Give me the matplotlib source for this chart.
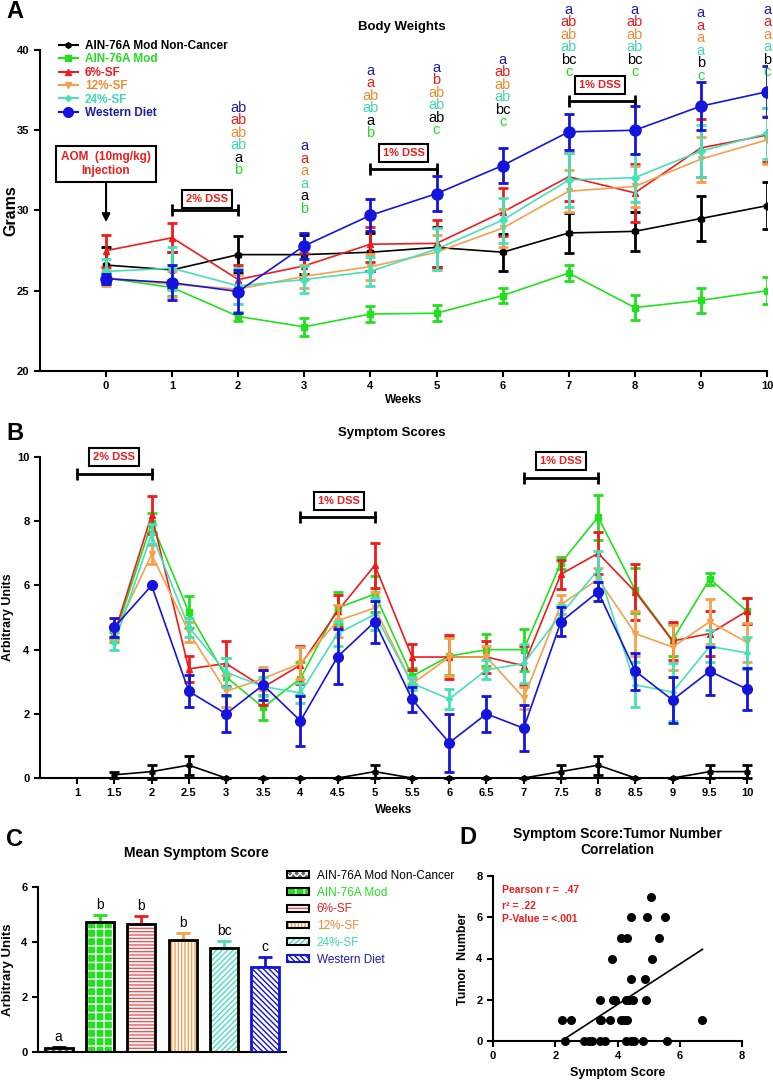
import matplotlib
matplotlib.use("Agg")
import matplotlib.pyplot as plt
from matplotlib.lines import Line2D
from matplotlib.patches import Patch
import numpy as np

plt.rcParams['font.family'] = ['Liberation Sans', 'DejaVu Sans']
plt.rcParams['hatch.linewidth'] = 1.0

# groups, in legend order
groups = ["AIN-76A Mod Non-Cancer", "AIN-76A Mod", "6%-SF", "12%-SF", "24%-SF", "Western Diet"]
line_colors = ["#000000", "#22e01e", "#ee1c1c", "#f4a04c", "#48e0b8", "#1414dc"]
text_colors = ["#000000", "#22dd22", "#ee1c1c", "#f08a30", "#40d8b0", "#1c1ca8"]
markers = ["h", "s", "^", "v", "D", "o"]
msizes = [5, 5, 5, 5, 4, 8]

# ---- panel A: body weights (grams)
weeks = [0, 1, 2, 3, 4, 5, 6, 7, 8, 9, 10]
bw_noncancer = [26.6, 26.3, 27.25, 27.25, 27.4, 27.7, 27.4, 28.6, 28.7, 29.5, 30.3]
bw_noncancer_sem = [1.1, 1.1, 1.15, 1.2, 1.2, 1.25, 1.15, 1.25, 1.2, 1.4, 1.45]
bw_mod = [25.8, 25.2, 23.4, 22.75, 23.55, 23.6, 24.7, 26.1, 23.95, 24.4, 25.0]
bw_mod_sem = [0.3, 0.5, 0.3, 0.55, 0.5, 0.5, 0.45, 0.5, 0.8, 0.8, 0.85]
bw_sf6 = [27.5, 28.3, 25.7, 26.55, 27.9, 27.95, 29.9, 32.1, 31.1, 33.9, 34.7]
bw_sf6_sem = [1.0, 0.9, 0.9, 0.8, 1.1, 1.45, 1.5, 1.5, 1.8, 1.8, 1.7]
bw_sf12 = [25.8, 25.4, 25.1, 25.9, 26.5, 27.4, 28.9, 31.2, 31.5, 33.2, 34.4]
bw_sf12_sem = [0.5, 0.8, 0.9, 0.7, 0.8, 1.1, 1.2, 1.3, 1.3, 1.4, 1.5]
bw_sf24 = [26.2, 26.4, 25.3, 25.7, 26.2, 27.6, 29.4, 31.9, 32.05, 33.7, 34.8]
bw_sf24_sem = [0.8, 1.35, 1.1, 0.85, 0.9, 1.3, 1.4, 1.7, 1.5, 1.6, 1.6]
bw_western = [25.75, 25.5, 24.95, 27.8, 29.7, 31.05, 32.8, 34.9, 35.0, 36.5, 37.4]
bw_western_sem = [0.3, 1.1, 1.35, 0.8, 1.0, 1.1, 1.1, 1.1, 1.5, 1.5, 1.6]

# significance letters per week, top to bottom: western, 6%, 12%, 24%, non-cancer, mod
letter_weeks = [2, 3, 4, 5, 6, 7, 8, 9, 10]
bw_letters = [
    ["ab", "ab", "ab", "ab", "a", "b"],
    ["a", "a", "a", "a", "a", "b"],
    ["a", "a", "ab", "ab", "a", "b"],
    ["a", "b", "ab", "ab", "ab", "c"],
    ["a", "ab", "ab", "ab", "bc", "c"],
    ["a", "ab", "ab", "ab", "bc", "c"],
    ["a", "ab", "ab", "ab", "bc", "c"],
    ["a", "a", "a", "a", "b", "c"],
    ["a", "a", "a", "a", "b", "c"],
]
letter_order = [5, 2, 3, 4, 0, 1]
letter_top = [36.4, 34.0, 38.7, 38.9, 39.4, 42.5, 42.5, 42.3, 42.5]

# ---- panel B: symptom scores
half_weeks = [1.5, 2, 2.5, 3, 3.5, 4, 4.5, 5, 5.5, 6, 6.5, 7, 7.5, 8, 8.5, 9, 9.5, 10]
ss_noncancer = [0.1, 0.2, 0.4, 0, 0, 0, 0, 0.2, 0, 0, 0, 0, 0.2, 0.4, 0, 0, 0.2, 0.2]
ss_noncancer_sem = [0.1, 0.22, 0.3, 0, 0, 0, 0, 0.2, 0, 0, 0, 0, 0.2, 0.3, 0, 0, 0.2, 0.2]
ss_mod = [4.4, 7.95, 5.17, 3.15, 2.2, 3.1, 5.3, 5.73, 3.17, 3.8, 4.0, 4.0, 6.7, 8.13, 5.85, 4.3, 6.2, 5.2]
ss_mod_sem = [0.15, 0.3, 0.5, 0.6, 0.4, 0.5, 0.5, 0.55, 0.25, 0.6, 0.5, 0.65, 0.2, 0.7, 0.7, 0.5, 0.2, 0.4]
ss_sf6 = [4.5, 8.2, 3.4, 3.57, 2.83, 3.52, 5.2, 6.63, 3.77, 3.77, 3.77, 3.5, 6.35, 7.0, 5.8, 4.27, 4.5, 5.2]
ss_sf6_sem = [0.15, 0.6, 0.4, 0.7, 0.55, 0.58, 0.5, 0.7, 0.4, 0.68, 0.5, 0.6, 0.45, 0.65, 0.88, 0.6, 0.7, 0.4]
ss_sf12 = [4.5, 6.97, 4.55, 2.7, 3.1, 3.57, 4.9, 5.3, 2.93, 3.77, 3.77, 2.5, 5.4, 6.2, 4.5, 4.08, 4.87, 4.23]
ss_sf12_sem = [0.2, 0.3, 0.3, 0.5, 0.35, 0.5, 0.5, 0.5, 0.2, 0.6, 0.35, 0.35, 0.3, 0.35, 0.7, 0.7, 0.7, 0.6]
ss_sf24 = [4.2, 7.6, 4.7, 3.3, 2.85, 2.65, 4.5, 5.1, 2.95, 2.46, 3.37, 3.57, 5.1, 6.48, 2.9, 2.68, 4.1, 3.9]
ss_sf24_sem = [0.2, 0.3, 0.3, 0.45, 0.3, 0.3, 0.4, 0.5, 0.2, 0.3, 0.3, 0.6, 0.3, 0.6, 0.7, 0.9, 0.5, 0.5]
ss_western = [4.7, 6.0, 2.7, 2.0, 2.9, 1.78, 3.78, 4.87, 2.45, 1.1, 2.0, 1.55, 4.87, 5.8, 3.33, 2.43, 3.33, 2.77]
ss_western_sem = [0.3, 0.0, 0.5, 0.58, 0.48, 0.78, 0.85, 0.65, 0.4, 0.9, 0.57, 0.72, 0.45, 0.3, 0.58, 0.72, 0.75, 0.65]

# ---- panel C: mean symptom score
mean_score = [0.13, 4.72, 4.67, 4.07, 3.78, 3.1]
mean_score_sem = [0.05, 0.25, 0.28, 0.25, 0.25, 0.35]
mean_letters = ["a", "b", "b", "b", "bc", "c"]

# ---- panel D: symptom score vs tumor number
symptom_score = [2.21, 2.5, 2.32, 2.91, 3.08, 3.18, 3.43, 3.43, 3.48, 3.43, 3.59, 3.75, 3.83,
                 3.86, 3.91, 4.1, 4.29, 4.1, 4.2, 4.29, 4.26, 4.37, 4.5, 4.42, 4.42, 4.26,
                 4.44, 4.53, 4.83, 4.87, 4.92, 4.96, 5.09, 5.12, 5.33, 5.52, 5.6, 6.73]
tumor_number = [1, 1, 0, 0, 0, 0, 2, 1, 1, 0, 0, 1, 4,
                2, 2, 5, 5, 1, 1, 1, 2, 2, 2, 3, 6, 0,
                0, 0, 0, 3, 2, 6, 7, 4, 5, 6, 0, 1]
fit_slope = 0.98
fit_intercept = -2.15


def style_axes(ax, fs=8):
    for s in ["top", "right"]:
        ax.spines[s].set_visible(False)
    for s in ["left", "bottom"]:
        ax.spines[s].set_linewidth(1.5)
    ax.tick_params(direction="out", length=4, width=1.5, labelsize=fs)
    for lab in ax.get_xticklabels() + ax.get_yticklabels():
        lab.set_fontweight("bold")


def dss_bracket(ax, x0, x1, y, label, label_x, label_y):
    ax.plot([x0, x1], [y, y], color="k", lw=2, marker="|", markersize=9,
            markeredgewidth=2, clip_on=False)
    ax.text(label_x, label_y, label, color="#ee1c1c", fontsize=8, fontweight="bold",
            ha="center", va="center", clip_on=False,
            bbox=dict(boxstyle="square,pad=0.35", fc="white", ec="black", lw=1.5))


fig = plt.figure(figsize=(7.73, 10.8), dpi=100)

# ---------------- A
axA = fig.add_axes([0.0517, 0.6565, 0.9405, 0.2972])
bw = [(bw_noncancer, bw_noncancer_sem), (bw_mod, bw_mod_sem), (bw_sf6, bw_sf6_sem),
      (bw_sf12, bw_sf12_sem), (bw_sf24, bw_sf24_sem), (bw_western, bw_western_sem)]
for i, (m, e) in enumerate(bw):
    axA.errorbar(weeks, m, yerr=e, color=line_colors[i], marker=markers[i], ms=msizes[i],
                 lw=1.2, elinewidth=2, capsize=3.5, capthick=2, zorder=2 + i)
axA.set_xlim(-1, 10)
axA.set_ylim(20, 40)
axA.set_xticks(weeks)
axA.set_yticks([20, 25, 30, 35, 40])
style_axes(axA)
axA.set_ylabel("Grams", fontsize=11.5, fontweight="bold")
axA.yaxis.set_label_coords(-0.03, 0.5)
axA.set_xlabel("Weeks", fontsize=8.5, fontweight="bold", labelpad=2)

for w, labs, top in zip(letter_weeks, bw_letters, letter_top):
    for k, (lab, gi) in enumerate(zip(labs, letter_order)):
        axA.text(w, top - k * 0.78, lab, color=text_colors[gi], fontsize=10.5,
                 ha="center", va="center", clip_on=False)

axA.text(0, 32.9, "AOM  (10mg/kg)\nInjection", color="#ee1c1c", fontsize=8.5,
         fontweight="bold", ha="center", va="center", linespacing=1.3,
         bbox=dict(boxstyle="square,pad=0.4", fc="white", ec="black", lw=1.5))
axA.annotate("", xy=(0, 29.1), xytext=(0, 31.9),
             arrowprops=dict(arrowstyle="-|>", color="k", lw=1.5, mutation_scale=12))
dss_bracket(axA, 1, 2, 30.06, "2% DSS", 1.53, 30.7)
dss_bracket(axA, 4, 5, 32.6, "1% DSS", 4.5, 33.6)
dss_bracket(axA, 7, 8, 36.8, "1% DSS", 7.47, 37.8)

handles = [Line2D([], [], color=line_colors[i], marker=markers[i], ms=msizes[i] - 1, lw=1.5)
           for i in range(6)]
legA = axA.legend(handles, groups, loc="upper left", bbox_to_anchor=(0.018, 1.05),
                  frameon=False, handlelength=1.6, handletextpad=0.6, labelspacing=0.12,
                  borderpad=0, prop=dict(size=8.5, weight="bold"))
for t, c in zip(legA.get_texts(), text_colors):
    t.set_color(c)

fig.text(402 / 773, 1 - 27 / 1080, "Body Weights", fontsize=9.5, fontweight="bold",
         ha="center", va="center")

# ---------------- B
axB = fig.add_axes([0.0517, 0.2796, 0.9146, 0.2972])
ss = [(ss_noncancer, ss_noncancer_sem), (ss_mod, ss_mod_sem), (ss_sf6, ss_sf6_sem),
      (ss_sf12, ss_sf12_sem), (ss_sf24, ss_sf24_sem), (ss_western, ss_western_sem)]
for i, (m, e) in enumerate(ss):
    axB.errorbar(half_weeks, m, yerr=e, color=line_colors[i], marker=markers[i],
                 ms=msizes[i] - 1, lw=1.2, elinewidth=2, capsize=3.5, capthick=2,
                 zorder=2 + i, clip_on=False)
axB.set_xlim(0.5, 10)
axB.set_ylim(0, 10)
axB.set_xticks([1] + half_weeks)
axB.set_xticklabels([f"{v:g}" for v in [1] + half_weeks])
axB.set_yticks([0, 2, 4, 6, 8, 10])
style_axes(axB)
axB.set_ylabel("Arbitrary Units", fontsize=9, fontweight="bold")
axB.yaxis.set_label_coords(-0.037, 0.5)
axB.set_xlabel("Weeks", fontsize=8.5, fontweight="bold", labelpad=4)
dss_bracket(axB, 1, 2, 9.47, "2% DSS", 1.5, 10.0)
dss_bracket(axB, 4, 5, 8.13, "1% DSS", 4.52, 8.63)
dss_bracket(axB, 7, 8, 9.35, "1% DSS", 7.5, 9.88)
fig.text(392 / 773, 1 - 433 / 1080, "Symptom Scores", fontsize=9.5, fontweight="bold",
         ha="center", va="center")

# ---------------- C
axC = fig.add_axes([0.0492, 0.0259, 0.3208, 0.1528])
bar_face = ["#666666", "#22e01e", "white", "white", "white", "white"]
bar_hatch = ["xxxxx", "++", "-----", "|||||", "//////", "\\\\\\\\\\\\"]
hatch_color = ["white", "white", "#ee5555", "#f4a04c", "#48e0b8", "#1414dc"]
bar_edge = ["black", "black", "black", "black", "black", "#1414dc"]
xpos = np.arange(len(groups))
legend_handles = []
for i in range(len(groups)):
    axC.bar(xpos[i], mean_score[i], width=0.68, color=bar_face[i], hatch=bar_hatch[i],
            edgecolor=hatch_color[i], linewidth=0, zorder=2)
    axC.bar(xpos[i], mean_score[i], width=0.68, fill=False, edgecolor=bar_edge[i],
            linewidth=2, zorder=3)
    axC.errorbar(xpos[i], mean_score[i], yerr=[[0], [mean_score_sem[i]]],
                 color=line_colors[i], elinewidth=2, capsize=5, capthick=2, zorder=1)
    axC.text(xpos[i], mean_score[i] + mean_score_sem[i] + 0.12, mean_letters[i],
             fontsize=10, ha="center", va="bottom")
    legend_handles.append((Patch(facecolor=bar_face[i], hatch=bar_hatch[i],
                                 edgecolor=hatch_color[i], linewidth=0),
                           Patch(fill=False, edgecolor=bar_edge[i], linewidth=1.5)))
axC.set_xlim(-0.5, 5.5)
axC.set_ylim(0, 6)
axC.set_xticks([])
axC.set_yticks([0, 2, 4, 6])
style_axes(axC)
axC.tick_params(axis="x", length=0)
axC.set_ylabel("Arbitrary Units", fontsize=9.5, fontweight="bold")
axC.yaxis.set_label_coords(-0.095, 0.5)
fig.text(196 / 773, 1 - 853 / 1080, "Mean Symptom Score", fontsize=10, fontweight="bold",
         ha="center", va="center")
legC = fig.legend(legend_handles, groups, loc="upper left", bbox_to_anchor=(0.364, 0.2),
                  frameon=False, handlelength=1.8, handleheight=0.5, handletextpad=0.7,
                  labelspacing=0.4, borderpad=0, prop=dict(size=8.5))
for t, c in zip(legC.get_texts(), text_colors):
    t.set_color(c)

# ---------------- D
axD = fig.add_axes([0.6378, 0.0361, 0.3221, 0.1528])
axD.scatter(symptom_score, tumor_number, s=30, color="black", zorder=3, clip_on=False)
fx = np.array([min(symptom_score), max(symptom_score)])
axD.plot(fx, fit_slope * fx + fit_intercept, color="black", lw=1.2)
axD.set_xlim(0, 8)
axD.set_ylim(0, 8)
axD.set_xticks([0, 2, 4, 6, 8])
axD.set_yticks([0, 2, 4, 6, 8])
style_axes(axD)
axD.set_xlabel("Symptom Score", fontsize=9, fontweight="bold", labelpad=4)
axD.set_ylabel("Tumor  Number", fontsize=9, fontweight="bold")
axD.yaxis.set_label_coords(-0.095, 0.5)
for txt, y in zip(["Pearson r =  .47", "r² = .22", "P-Value = <.001"], [7.3, 6.55, 5.9]):
    axD.text(0.3, y, txt, color="#ee1c1c", fontsize=7.5, fontweight="bold", va="center")
fig.text(617 / 773, 1 - 842 / 1080, "Symptom Score:Tumor Number\nCorrelation",
         fontsize=10, fontweight="bold", ha="center", va="center", linespacing=1.1)

# panel letters
for lab, px, py in [("A", 15, 12), ("B", 15, 433), ("C", 15, 840), ("D", 468, 838)]:
    fig.text(px / 773, 1 - py / 1080, lab, fontsize=17, fontweight="bold",
             ha="center", va="center")

fig.savefig("out.png", dpi=100)
